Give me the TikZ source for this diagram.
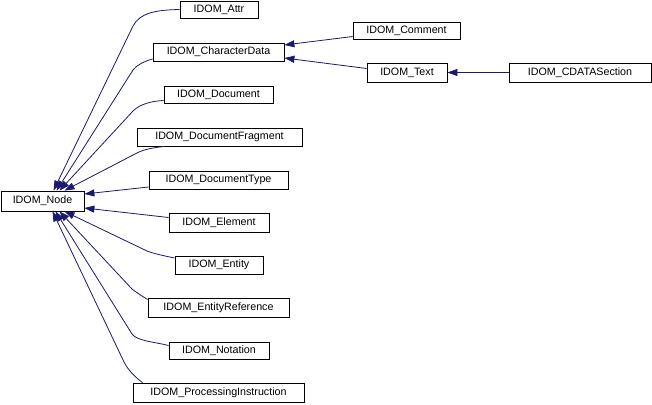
\documentclass[tikz,border=0pt]{standalone}
\usepackage{fontspec}
\setmainfont{Liberation Sans}
\usepackage{tikz}
\usetikzlibrary{calc}
\usetikzlibrary{arrows.meta}
\definecolor{DoxyBlue}{RGB}{25,25,112}

\begin{document}
\begin{tikzpicture}[x=1pt, y=-1pt, Erbpfeil/.style={draw=DoxyBlue, line width=0.8pt, arrows = -{Triangle[length=10pt, width=7pt]}}, Klasse/.style={draw, line width=0.8pt, fill=white, minimum height=18pt, inner sep=0pt, font=\fontsize{10.7}{12}\selectfont}]
\useasboundingbox (0,0) rectangle (652,404);
\node (node) at (42.5,201) [Klasse, minimum width=83pt, minimum height=20pt] {IDOM\_Node};
\node (attr) at (219,9.5) [Klasse, minimum width=78pt, minimum height=17pt] {IDOM\_Attr};
\node (chardata) at (218.5,52) [Klasse, minimum width=131pt] {IDOM\_CharacterData};
\node (document) at (218.5,94.5) [Klasse, minimum width=109pt, minimum height=17pt] {IDOM\_Document};
\node (docfrag) at (219.5,137) [Klasse, minimum width=165pt] {IDOM\_DocumentFragment};
\node (doctype) at (218.5,180) [Klasse, minimum width=139pt] {IDOM\_DocumentType};
\node (element) at (219,222.5) [Klasse, minimum width=100pt, minimum height=19pt] {IDOM\_Element};
\node (entity) at (219,265) [Klasse, minimum width=88pt] {IDOM\_Entity};
\node (entref) at (218.5,307.5) [Klasse, minimum width=141pt, minimum height=19pt] {IDOM\_EntityReference};
\node (notation) at (219,350.5) [Klasse, minimum width=100pt, minimum height=17pt] {IDOM\_Notation};
\node (procinstr) at (218.5,392.5) [Klasse, minimum width=171pt, minimum height=19pt] {IDOM\_ProcessingInstruction};
\node (comment) at (406.5,30.5) [Klasse, minimum width=107pt, minimum height=17pt] {IDOM\_Comment};
\node (text) at (407,72.5) [Klasse, minimum width=80pt, minimum height=19pt] {IDOM\_Text};
\node (cdata) at (580,72.5) [Klasse, minimum width=142pt, minimum height=19pt] {IDOM\_CDATASection};
\draw[Erbpfeil] (attr.west) .. controls (155,10) and (140,13) .. (133,26) -- ([xshift=11pt]node.north);
\draw[Erbpfeil] ([yshift=-7pt]chardata.west) .. controls (145,61) and (138,64) .. (133,70) -- ([xshift=14pt]node.north);
\draw[Erbpfeil] ([yshift=-6pt]document.west) .. controls (152,101) and (140,104) .. (133,111) -- ([xshift=17pt]node.north);
\draw[Erbpfeil] ([xshift=28pt]docfrag.south west) .. controls (150,148) and (142,150) .. (135,154) -- ([xshift=22pt]node.north);
\draw[Erbpfeil] ([yshift=-7pt]doctype.west) -- ([yshift=7pt]node.east);
\draw[Erbpfeil] ([yshift=5pt]element.west) -- ([yshift=-7pt]node.east);
\draw[Erbpfeil] ([yshift=7pt]entity.west) .. controls (165,256) and (155,254) .. (147,251) -- ([xshift=22pt]node.south);
\draw[Erbpfeil] ([yshift=8pt]entref.west) .. controls (142,296) and (137,293) .. (132,289) -- ([xshift=17pt]node.south);
\draw[Erbpfeil] ([yshift=5pt]notation.west) .. controls (155,342) and (137,341) .. (132,334) -- ([xshift=13pt]node.south);
\draw[Erbpfeil] ([xshift=10pt]procinstr.north west) .. controls (135,377) and (128,370) .. (124,362) -- ([xshift=10pt]node.south);
\draw[Erbpfeil] ([yshift=-6pt]comment.west) -- ([yshift=7pt]chardata.east);
\draw[Erbpfeil] ([yshift=4pt]text.west) -- ([yshift=-6pt]chardata.east);
\draw[Erbpfeil] (cdata.west) -- (text.east);
\end{tikzpicture}
\end{document}
